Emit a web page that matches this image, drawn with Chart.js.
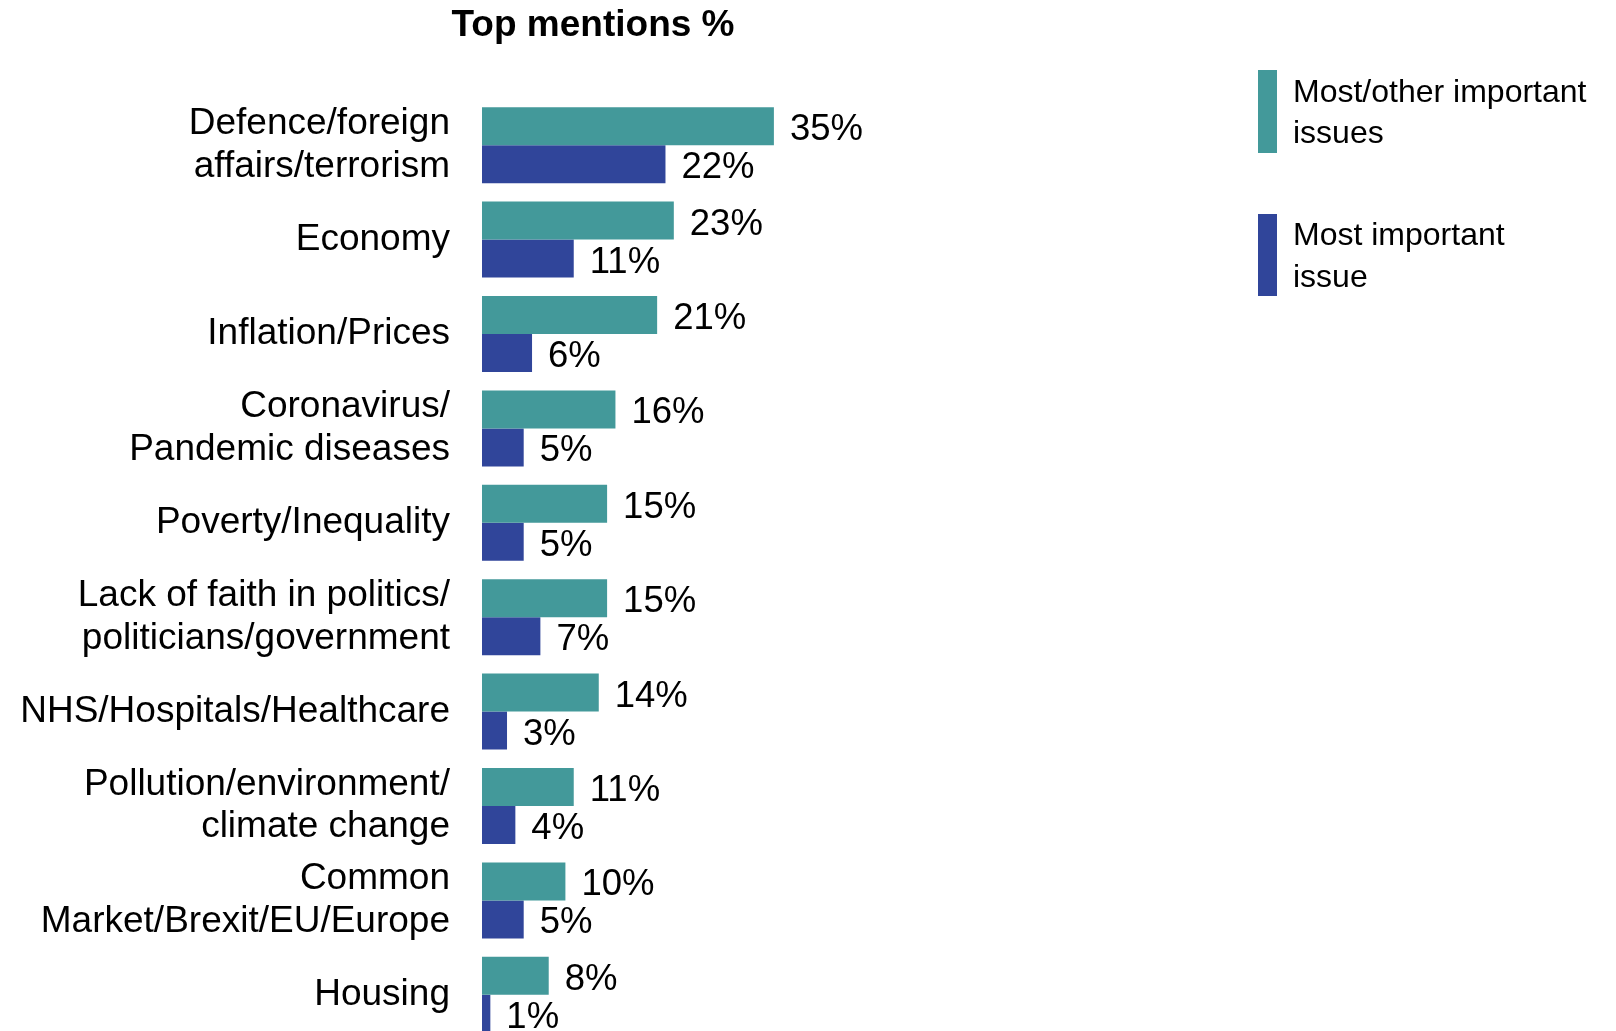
<!DOCTYPE html>
<html>
<head>
<meta charset="utf-8">
<script src="https://cdn.jsdelivr.net/npm/chart.js@4/dist/chart.umd.min.js"></script>
<style>
  html, body { margin: 0; padding: 0; background: #ffffff; overflow: hidden; }
  canvas { display: block; }
</style>
</head>
<body>
<canvas id="c" width="1616" height="1043" style="width:1616px;height:1043px"></canvas>
<script>
const categories = [
  ["Defence/foreign", "affairs/terrorism"],
  "Economy",
  "Inflation/Prices",
  ["Coronavirus/", "Pandemic diseases"],
  "Poverty/Inequality",
  ["Lack of faith in politics/", "politicians/government"],
  "NHS/Hospitals/Healthcare",
  ["Pollution/environment/", "climate change"],
  ["Common", "Market/Brexit/EU/Europe"],
  "Housing"
];
const seriesNames = ["Most/other important issues", "Most important issue"];
const legendLines = [["Most/other important", "issues"], ["Most important", "issue"]];
const mostOther = [35, 23, 21, 16, 15, 15, 14, 11, 10, 8];
const mostImportant = [22, 11, 6, 5, 5, 7, 3, 4, 5, 1];
const titleText = "Top mentions %";
const colors = ["#43999A", "#30459A"];

const FONT = "'Liberation Sans', Arial, Helvetica, sans-serif";

const valueLabels = {
  id: 'valueLabels',
  afterDatasetsDraw(chart) {
    const ctx = chart.ctx;
    ctx.save();
    ctx.font = "36.5px " + FONT;
    ctx.fillStyle = "#000";
    ctx.textAlign = "left";
    ctx.textBaseline = "middle";
    chart.data.datasets.forEach((ds, di) => {
      const meta = chart.getDatasetMeta(di);
      meta.data.forEach((el, i) => {
        ctx.fillText(ds.data[i] + "%", el.x + 16, el.y + 4);
      });
    });
    ctx.restore();
  }
};

const customTitleLegend = {
  id: 'customTitleLegend',
  afterDraw(chart) {
    const ctx = chart.ctx;
    ctx.save();
    ctx.font = "bold 37px " + FONT;
    ctx.fillStyle = "#000";
    ctx.textAlign = "center";
    ctx.textBaseline = "alphabetic";
    ctx.fillText(titleText, 593, 36);
    const boxes = [[70, 153], [214, 296]];
    const baselines = [[102, 143], [245, 287]];
    ctx.font = "32px " + FONT;
    ctx.textAlign = "left";
    legendLines.forEach((lines, i) => {
      ctx.fillStyle = chart.data.datasets[i].backgroundColor;
      ctx.fillRect(1258, boxes[i][0], 19, boxes[i][1] - boxes[i][0]);
      ctx.fillStyle = "#000";
      lines.forEach((ln, j) => ctx.fillText(ln, 1293, baselines[i][j]));
    });
    ctx.restore();
  }
};

new Chart(document.getElementById('c'), {
  type: 'bar',
  data: {
    labels: categories,
    datasets: [
      { label: seriesNames[0], data: mostOther, backgroundColor: colors[0] },
      { label: seriesNames[1], data: mostImportant, backgroundColor: colors[1] }
    ]
  },
  options: {
    indexAxis: 'y',
    responsive: false,
    maintainAspectRatio: false,
    devicePixelRatio: 1,
    animation: false,
    categoryPercentage: 0.805,
    barPercentage: 1.0,
    layout: { padding: { top: 98, right: 300, bottom: 1, left: 0 } },
    plugins: {
      legend: { display: false },
      title: { display: false },
      tooltip: { enabled: false }
    },
    scales: {
      x: {
        display: false,
        min: 0,
        max: 100
      },
      y: {
        grid: { display: false, drawTicks: false },
        border: { display: false },
        ticks: {
          color: "#000",
          padding: 32,
          font: { size: 37, family: FONT, lineHeight: 1.15 },
          autoSkip: false
        },
        afterFit(scale) {
          scale.width = 482;
          scale.paddingTop = 0;
          scale.paddingBottom = 0;
        }
      }
    }
  },
  plugins: [valueLabels, customTitleLegend]
});
</script>
</body>
</html>
